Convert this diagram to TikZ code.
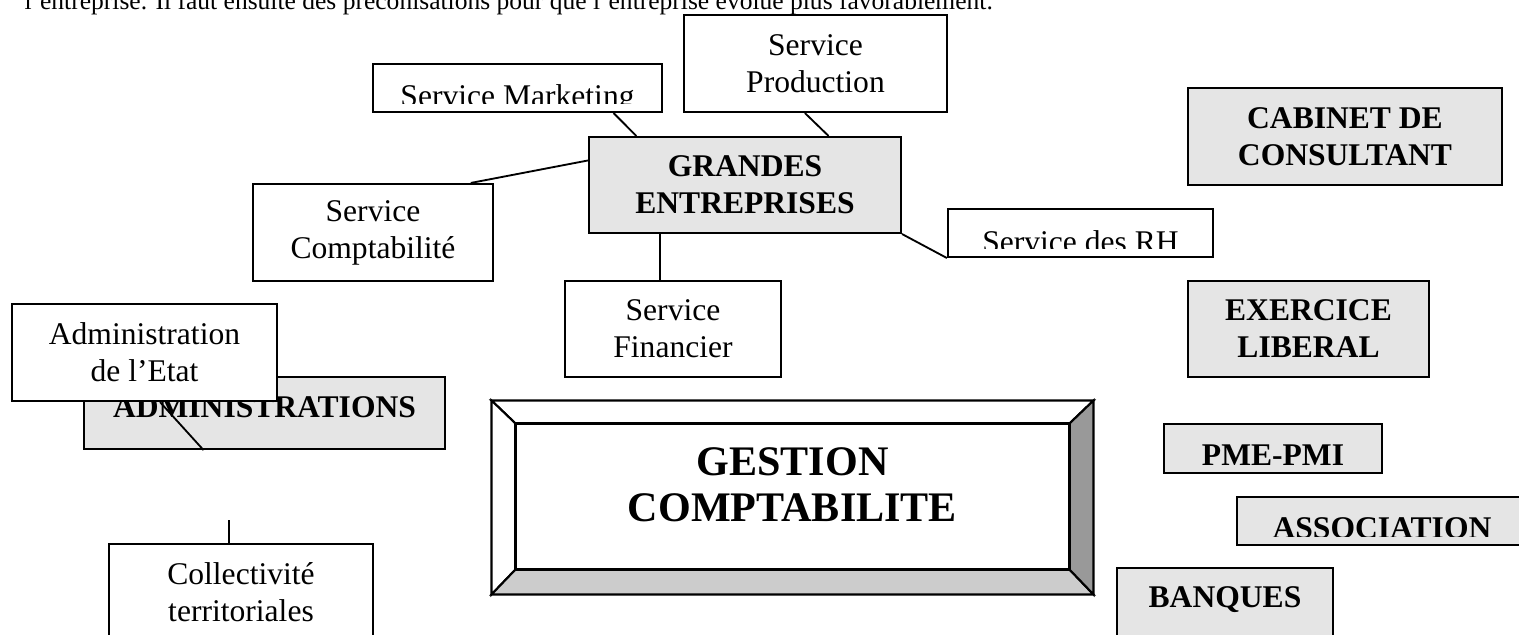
\documentclass[tikz,border=0pt]{standalone}
\usepackage{fontspec}
\setmainfont{Liberation Serif}
\usetikzlibrary{fit,calc}
\tikzset{
  box/.style={draw, line width=0.8pt, inner sep=0pt, fill=white},
  hbox/.style={box, fill=gray!20},
  txt/.style={align=center, inner sep=0pt, font=\fontsize{12}{14}\selectfont},
  htxt/.style={txt, font=\fontsize{12}{14}\selectfont\bfseries},
  lbl/.style={anchor=base, inner sep=0pt, font=\fontsize{12}{14}\selectfont},
  hlbl/.style={lbl, font=\fontsize{12}{14}\selectfont\bfseries},
  link/.style={line width=0.7pt}
}
\begin{document}
\begin{tikzpicture}[x=0.38pt,y=-0.38pt]
\useasboundingbox (0,0) rectangle (1519,635);
\clip (0,0) rectangle (1519,635);

\node[lbl, anchor=base west, font=\fontsize{9.7}{12}\selectfont] (intro) at (24,10)
  {l’entreprise. Il faut ensuite des préconisations pour que l’entreprise évolue plus favorablement.};

\node[box, fit={(684,15) (947,112)}, label={[txt]center:Service\\Production}] (prod) {};
\node[box, fit={(373,64) (662,112)}] (mkt) {};
\begin{scope}
\clip (mkt.north west) rectangle ($(mkt.south east)+(0,-10)$);
\node[lbl] (mkt-t) at ($(mkt.south)+(0,-7)$) {Service Marketing};
\end{scope}
\node[hbox, fit={(589,137) (901,233)}, label={[htxt]center:GRANDES\\ENTREPRISES}] (grandes) {};
\node[box, fit={(253,184) (493,281)}, label={[txt]center:Service\\Comptabilité}] (compta) {};
\node[box, fit={(948,209) (1213,257)}] (rh) {};
\begin{scope}
\clip (rh.north west) rectangle ($(rh.south east)+(0,-10)$);
\node[lbl] (rh-t) at ($(rh.south)+(0,-6)$) {Service des RH};
\end{scope}
\node[box, fit={(565,281) (781,377)}, label={[txt]center:Service\\Financier}] (fin) {};

\draw[link] ($(mkt.south west)!0.83!(mkt.south east)$) -- ($(grandes.north west)!0.154!(grandes.north east)$);
\draw[link] ($(prod.south west)!0.46!(prod.south east)$) -- ($(grandes.north west)!0.766!(grandes.north east)$);
\draw[link] ($(compta.north west)!0.904!(compta.north east)$) -- ($(grandes.north west)!0.25!(grandes.south west)$);
\draw[link] ($(grandes.south west)!0.23!(grandes.south east)$) coordinate (gf) -- (gf |- fin.north);
\draw[link] (grandes.south east) -- (rh.south west);

\node[hbox, fit={(84,377) (445,449)}, label={[htxt, yshift=2.3pt]center:ADMINISTRATIONS}] (admins) {};
\node[box, fit={(12,304) (277,401)}, label={[txt]center:Administration\\de l’Etat}] (etat) {};
\draw[link] ($(etat.south west)!0.558!(etat.south east)$) -- ($(admins.south west)!0.332!(admins.south east)$);
\node[box, fit={(109,544) (373,641)}, label={[txt]center:Collectivité\\territoriales}] (coll) {};
\coordinate (colltop) at (229,520);
\draw[link] (colltop) -- (colltop |- coll.north);

\node[inner sep=0pt, fit={(492,401) (1093,594)}] (gestout) {};
\node[inner sep=0pt, fit={(516,424) (1069,569)}] (gestion) {};
\filldraw[fill=white, line width=0.8pt] (gestout.north west) -- (gestout.north east) -- (gestion.north east) -- (gestion.north west) -- cycle;
\filldraw[fill=white, line width=0.8pt] (gestout.north west) -- (gestion.north west) -- (gestion.south west) -- (gestout.south west) -- cycle;
\filldraw[fill=gray!40, line width=0.8pt] (gestout.south west) -- (gestion.south west) -- (gestion.south east) -- (gestout.south east) -- cycle;
\filldraw[fill=gray!80, line width=0.8pt] (gestout.north east) -- (gestion.north east) -- (gestion.south east) -- (gestout.south east) -- cycle;
\draw[line width=1.1pt] (gestion.south west) rectangle (gestion.north east);
\node[inner sep=0pt, align=center, font=\fontsize{16}{17.5}\selectfont\bfseries] (gestion-t)
  at ($(gestion)+(0,-11.5)$) {GESTION\\COMPTABILITE};

\node[hbox, fit={(1188,88) (1502,185)}, label={[htxt]center:CABINET DE\\CONSULTANT}] (cabinet) {};
\node[hbox, fit={(1188,281) (1429,377)}, label={[htxt]center:EXERCICE\\LIBERAL}] (liberal) {};
\node[hbox, fit={(1164,424) (1382,473)}] (pme) {};
\begin{scope}
\clip (pme.north west) rectangle ($(pme.south east)+(0,-10)$);
\node[hlbl] (pme-t) at ($(pme.south)+(0,-8.5)$) {PME-PMI};
\end{scope}
\node[hbox, fit={(1237,497) (1527,545)}] (assoc) {};
\begin{scope}
\clip (assoc.north west) rectangle ($(assoc.south east)+(0,-10)$);
\node[hlbl] (assoc-t) at ($(assoc.south)+(0,-8)$) {ASSOCIATION};
\end{scope}
\node[hbox, fit={(1117,568) (1333,665)}] (banques) {};
\node[hlbl] (banques-t) at ($(banques.north)+(0,41)$) {BANQUES};
\end{tikzpicture}
\end{document}
